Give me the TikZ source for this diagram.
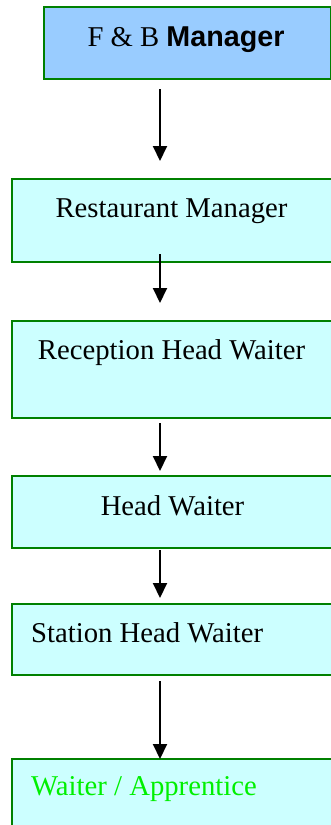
\documentclass[tikz,border=0pt]{standalone}
\usepackage{fontspec}
\setmainfont{Liberation Serif}
\newfontfamily\arialbold{Liberation Sans}[BoldFont={* Bold}]
\usetikzlibrary{arrows.meta}
\definecolor{boxline}{RGB}{0,128,0}
\definecolor{topfill}{RGB}{153,204,255}
\definecolor{boxfill}{RGB}{204,255,255}
\definecolor{greentext}{RGB}{0,240,0}
\begin{document}
\begin{tikzpicture}[x=1pt,y=-1pt,
  boxstyle/.style={draw=boxline,line width=2pt,rectangle,inner sep=0pt,anchor=north west},
  txt/.style={inner sep=0pt,font=\fontsize{28.7}{34}\selectfont},
  arr/.style={line width=2pt,-{Triangle[width=14pt,length=15pt]}}]
\useasboundingbox (0,0) rectangle (331,825);
\clip (0,0) rectangle (331,825);
% boxes
\node[boxstyle,fill=topfill,minimum width=287pt,minimum height=72pt] (b1) at (43,6) {};
\node[boxstyle,fill=boxfill,minimum width=324pt,minimum height=83pt] (b2) at (11,178) {};
\node[boxstyle,fill=boxfill,minimum width=324pt,minimum height=97pt] (b3) at (11,320) {};
\node[boxstyle,fill=boxfill,minimum width=324pt,minimum height=72pt] (b4) at (11,475) {};
\node[boxstyle,fill=boxfill,minimum width=324pt,minimum height=71pt] (b5) at (11,603) {};
\node[boxstyle,fill=boxfill,minimum width=324pt,minimum height=90pt] (b6) at (11,758) {};
% texts
\node[txt,anchor=base] (t1) at (186,46) {F \& B {\arialbold\bfseries Manager}};
\node[txt,anchor=base] (t2) at (171.5,217) {Restaurant Manager};
\node[txt,anchor=base] (t3) at (171.5,359) {Reception Head Waiter};
\node[txt,anchor=base] (t4) at (172.5,515) {Head Waiter};
\node[txt,anchor=base west] (t5) at (31,642) {Station Head Waiter};
\node[txt,anchor=base west,text=greentext] (t6) at (31,795) {Waiter / Apprentice};
% arrow endpoints
\coordinate (a1s) at (160,89);  \coordinate (a1e) at (160,161);
\coordinate (a2s) at (160,254); \coordinate (a2e) at (160,303);
\coordinate (a3s) at (160,423); \coordinate (a3e) at (160,471);
\coordinate (a4s) at (160,550); \coordinate (a4e) at (160,598);
\coordinate (a5s) at (160,681); \coordinate (a5e) at (160,759);
\draw[arr] (a1s) -- (a1e);
\draw[arr] (a2s) -- (a2e);
\draw[arr] (a3s) -- (a3e);
\draw[arr] (a4s) -- (a4e);
\draw[arr] (a5s) -- (a5e);
\end{tikzpicture}
\end{document}
